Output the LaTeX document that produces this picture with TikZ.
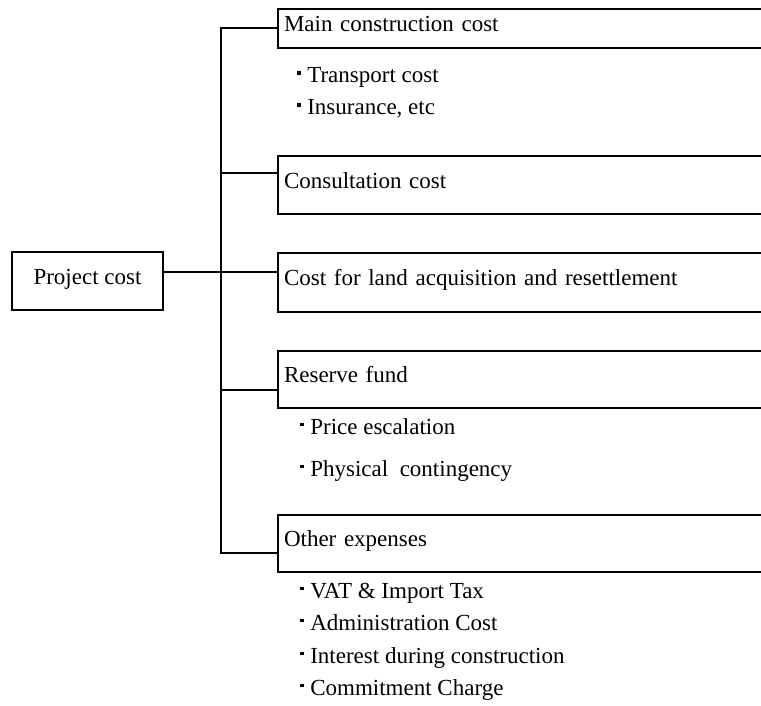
\documentclass[tikz,border=0pt]{standalone}
\usepackage{fontspec}
\setmainfont{Liberation Serif}
\tikzset{
  x=1pt, y=-1pt,
}
\tikzstyle{every node}=[font=\fontsize{23}{28}\selectfont]
\tikzstyle{link}=[line width=2.4pt,line cap=rect]
\tikzstyle{box}=[draw,line width=2pt,inner sep=0pt,text height=0.72em,text depth=0.06em]
\tikzstyle{group}=[box,anchor=north west,inner xsep=6pt,text width=560pt,align=left]
\tikzstyle{item}=[anchor=base west,inner sep=0pt]
\newcommand{\sqdot}{\rule[0.34em]{0.16em}{0.16em}\hspace{0.28em}}

\begin{document}
\begin{tikzpicture}
    \fill[white] (0,0) rectangle (761,706);
    \useasboundingbox (0,0) rectangle (761,706);
    \clip (0,0) rectangle (761,706);

    \node[box,minimum width=151,minimum height=58] (project) at (87.5,281) {Project cost};

    \node[group,minimum height=39] (main) at (277,8) {Main construction cost};
    \node[group,minimum height=58] (consult) at (277,155) {Consultation cost};
    \node[group,minimum height=59] (land) at (277,252) {Cost for land acquisition and resettlement};
    \node[group,minimum height=57] (reserve) at (277,350) {Reserve fund};
    \node[group,minimum height=57] (other) at (277,514) {Other expenses};

    \coordinate (top) at (221,28);
    \coordinate (bot) at (221,553);
    \draw[link] (top) -- (bot);
    \foreach \n/\y in {main/28,consult/173,land/272,reserve/390,other/553}
      \draw[link] (top |- 0,\y) -- (\n.west |- 0,\y);
    \draw[link] ([yshift=9pt]project.east) -- (top |- 0,272);

    \foreach \n/\x/\y/\t in {tr/297/83/{Transport cost},ins/297/115/{Insurance, etc},
      pe/300/434/{Price escalation},pc/300/476/{Physical\ \ contingency},
      vat/300/598/{VAT \& Import Tax},adm/300/630/{Administration Cost},
      idc/300/663/{Interest during construction},cc/300/695/{Commitment Charge}}
      \node[item] (\n) at (\x,\y) {\sqdot\t};
\end{tikzpicture}
\end{document}
